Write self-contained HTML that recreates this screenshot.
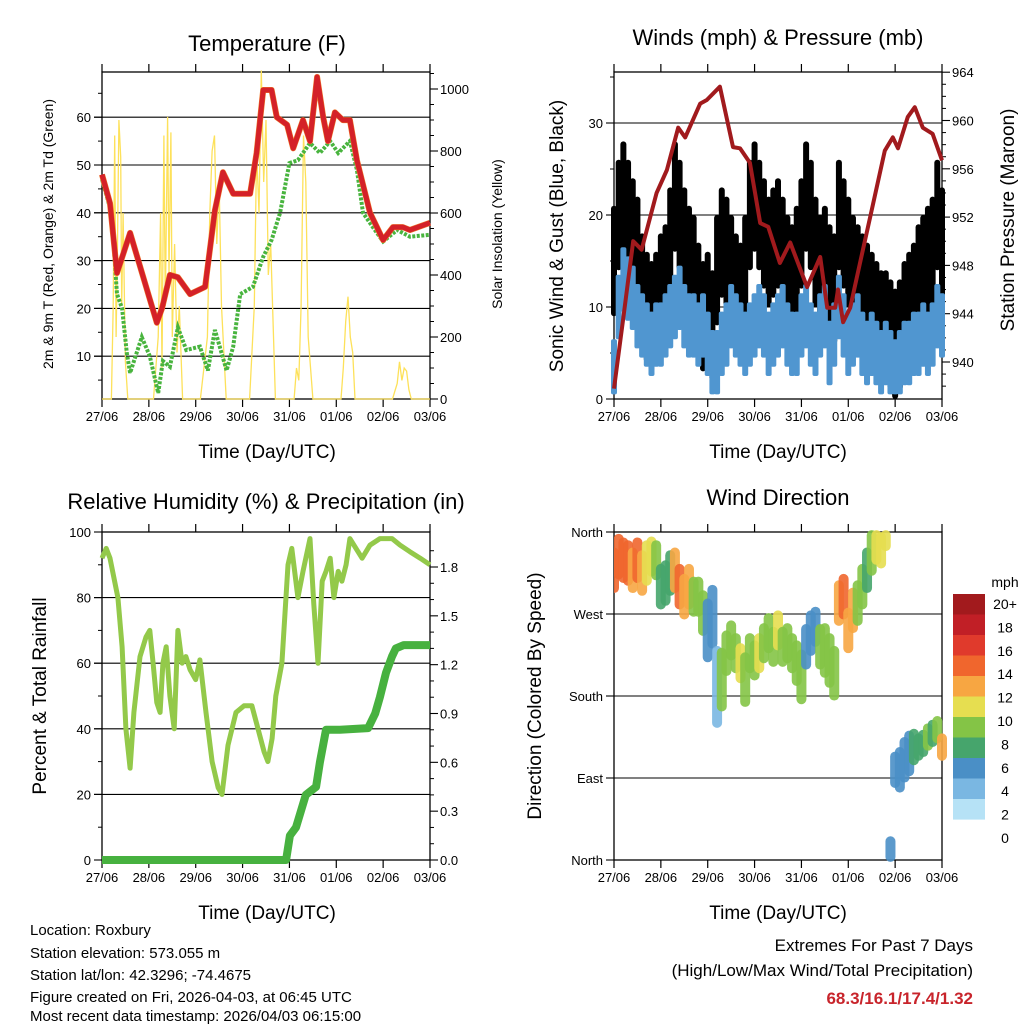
<!DOCTYPE html>
<html><head><meta charset="utf-8"><style>
html,body{margin:0;padding:0;background:#fff}
svg{display:block;font-family:"Liberation Sans",Arial,sans-serif}
</style></head><body>
<svg id="c" width="1024" height="1024" viewBox="0 0 1024 1024" xmlns="http://www.w3.org/2000/svg">
<g font-size="22" text-anchor="middle">
<text x="267" y="51">Temperature (F)</text>
<text x="778" y="45">Winds (mph) &amp; Pressure (mb)</text>
<text x="266" y="509">Relative Humidity (%) &amp; Precipitation (in)</text>
<text x="778" y="505">Wind Direction</text>
</g>
<g font-size="19" text-anchor="middle">
<text x="267" y="458">Time (Day/UTC)</text>
<text x="778" y="458">Time (Day/UTC)</text>
<text x="267" y="919">Time (Day/UTC)</text>
<text x="778" y="919">Time (Day/UTC)</text>
<text transform="translate(53,234) rotate(-90)" font-size="14">2m &amp; 9m T (Red, Orange) &amp; 2m Td (Green)</text>
<text transform="translate(502,234) rotate(-90)" font-size="14">Solar Insolation (Yellow)</text>
<text transform="translate(563,236) rotate(-90)">Sonic Wind &amp; Gust (Blue, Black)</text>
<text transform="translate(1014,220) rotate(-90)">Station Pressure (Maroon)</text>
<text transform="translate(46,696) rotate(-90)">Percent &amp; Total Rainfall</text>
<text transform="translate(541,696) rotate(-90)">Direction (Colored By Speed)</text>
</g>
<g font-size="15">
<text x="30" y="935">Location: Roxbury</text>
<text x="30" y="958">Station elevation: 573.055 m</text>
<text x="30" y="980">Station lat/lon: 42.3296; -74.4675</text>
<text x="30" y="1002">Figure created on Fri, 2026-04-03, at 06:45 UTC</text>
<text x="30" y="1024" dy="-3">Most recent data timestamp: 2026/04/03 06:15:00</text>
</g>
<g font-size="17" text-anchor="end">
<text x="973" y="951">Extremes For Past 7 Days</text>
<text x="973" y="976">(High/Low/Max Wind/Total Precipitation)</text>
<text x="973" y="1004" fill="#c8242b" font-weight="bold">68.3/16.1/17.4/1.32</text>
</g>
<g id="layer"></g>
</svg>
<script>
// ---------- DATA ----------
const dayLabels=["27/06","28/06","29/06","30/06","31/06","01/06","02/06","03/06"];
const tempTime=[0,0.17,0.32,0.6,1.17,1.28,1.45,1.62,1.88,2.2,2.41,2.58,2.8,3.16,3.3,3.44,3.62,3.73,3.95,4.08,4.29,4.44,4.59,4.72,4.82,4.97,5.14,5.29,5.44,5.72,6.0,6.21,6.42,6.57,7.0];
const tempVals=[48,42,27.4,35.8,17,20,27,26.5,23,24.5,40.5,48.5,44,44,52.5,65.7,65.7,60,58.4,53.5,59.4,55,68.4,60,55,61,59.4,59.4,51,40,34.3,37,37,36.4,37.9];
const dewTime=[0,0.2,0.32,0.43,0.53,0.6,0.85,1.02,1.2,1.3,1.45,1.62,1.8,2.09,2.26,2.41,2.66,2.8,2.95,3.22,3.44,3.62,3.8,4.0,4.18,4.44,4.65,4.87,5.04,5.29,5.44,5.57,5.78,6.0,6.3,6.57,7.0];
const dewVals=[47,40,23,20,10.7,6.5,14,10,2.3,9,7.8,16,11.3,12,7,15.5,7,12,23,24.5,30.8,34.3,40,50.4,51,54.6,52.5,55,52.5,55,49,40,37,34,36.4,35,35.4];
const solarTime=[0,0.2,0.24,0.27,0.3,0.33,0.36,0.4,0.42,0.45,0.5,0.55,1.1,1.2,1.25,1.28,1.32,1.35,1.4,1.43,1.47,1.5,1.55,1.6,1.65,1.72,2.1,2.25,2.3,2.35,2.4,2.45,2.5,2.55,2.65,3.15,3.25,3.3,3.35,3.4,3.45,3.5,3.55,3.6,3.7,4.1,4.15,4.2,4.25,4.3,4.35,4.4,4.5,5.1,5.15,5.2,5.25,5.3,5.35,5.4,6.2,6.3,6.35,6.4,6.45,6.5,6.55,6.6,7];
const solarVals=[0,0,300,850,200,500,900,780,300,600,120,0,0,200,600,100,850,300,910,400,860,200,500,150,300,0,0,200,600,800,850,500,700,300,0,0,300,800,600,1060,700,900,400,500,0,0,100,60,300,850,700,200,0,0,100,250,330,200,150,0,0,50,120,60,100,90,30,0,0];
const pressTime=[0,0.2,0.41,0.59,0.91,1.13,1.37,1.52,1.84,1.98,2.26,2.54,2.69,2.9,3.12,3.29,3.54,3.76,4.12,4.4,4.55,4.72,4.78,4.89,5.04,5.25,5.53,5.78,5.95,6.06,6.27,6.42,6.59,6.8,7.0];
const pressVals=[937.8,943.7,950,949.3,954,955.9,959.4,958.6,961.4,961.7,962.8,957.8,957.7,956.5,951.5,951.2,948.2,949.9,946.2,948.7,944.5,944.5,946,943.3,944.5,948.2,953.1,957.5,958.6,957.7,960.3,961.1,959.4,958.9,956.7];
// wind series sampled every 0.1 day
const windVals=[3,10,13,12,11,9,8,7,6,7,7,8,9,10,11,9,8,8,7,8,6,4,4,6,7,9,8,7,6,7,8,9,8,6,7,8,9,7,6,6,8,9,7,6,8,9,5,7,10,8,6,7,8,6,5,6,5,4,5,4,3,4,5,5,6,6,7,6,7,9,8];
const gustVals=[15,20,22,20,18,16,12,10,9,10,12,13,17,22,20,17,15,14,11,9,10,8,14,17,16,14,12,11,14,20,22,20,18,16,17,18,16,14,13,15,18,22,20,16,14,15,13,12,20,18,16,14,13,12,11,10,9,8,8,7,6,7,9,10,11,13,14,15,16,20,17];
const dirVals=[318,333,329,326,318,329,315,326,333,329,300,304,315,318,300,289,300,289,289,271,252,267,190,198,227,241,227,216,198,227,219,227,238,249,234,252,234,238,227,216,201,234,249,256,234,230,219,205,282,289,252,274,282,300,318,337,344,340,354,11,99,99,110,117,124,124,128,135,139,143,124];
const dirSpread=[25,25,25,25,25,25,25,25,22,22,25,25,25,25,25,25,25,22,22,25,35,35,45,35,25,22,22,22,30,22,22,22,22,22,22,22,22,22,22,25,30,25,25,22,25,30,30,30,25,25,25,25,25,25,25,25,20,20,15,15,20,25,25,25,20,15,15,15,15,15,15];
const dirSpeed=[14,14,15,14,13,14,12,10,10,9,7,7,7,13,14,13,12,8,8,8,4,4,3,8,9,9,8,10,9,8,9,10,9,8,9,10,8,9,9,8,9,4,4,5,8,8,9,8,13,14,12,13,8,8,7,8,11,11,10,4,4,4,5,4,7,7,7,8,7,8,12];
const rhTime=[0,0.09,0.17,0.34,0.43,0.51,0.6,0.68,0.81,0.94,1.02,1.09,1.17,1.24,1.3,1.37,1.45,1.54,1.62,1.71,1.79,1.88,2.0,2.09,2.22,2.35,2.48,2.56,2.69,2.86,3.03,3.2,3.33,3.46,3.54,3.63,3.71,3.84,3.97,4.05,4.18,4.29,4.44,4.52,4.61,4.7,4.78,4.87,4.95,5.04,5.12,5.21,5.29,5.42,5.55,5.72,5.93,6.19,6.36,6.57,6.79,7.0];
const rhVals=[92,95,92,80,65,40,28,45,62,68,70,60,48,45,60,65,50,40,70,60,62,58,55,61,45,30,22,20,35,45,47,47,40,33,30,37,50,60,90,95,80,88,98,78,60,85,88,92,80,88,85,90,98,95,92,96,98,98,96,94,92,90];
const precipTime=[0,3.93,4.01,4.14,4.35,4.57,4.65,4.78,5.08,5.68,5.83,5.93,6.06,6.19,6.27,6.44,7.0];
const precipVals=[0,0,0.15,0.2,0.4,0.45,0.6,0.8,0.8,0.81,0.9,1.0,1.15,1.25,1.3,1.32,1.32];
const cbColors=["#a21a1d","#c11f26","#e03a2c","#f0662d","#f7a642","#e6de50","#84c446","#46a56c","#4a8fc6","#7ab7e2","#b6e2f6"];
const cbLabels=["20+","18","16","14","12","10","8","6","4","2","0"];

// ---------- HELPERS ----------
const NS="http://www.w3.org/2000/svg";
const layer=document.getElementById('layer');
function mk(tag,attrs,parent){const e=document.createElementNS(NS,tag);for(const k in attrs)e.setAttribute(k,attrs[k]);(parent||layer).appendChild(e);return e;}
function lin(d0,d1,r0,r1){return v=>r0+(v-d0)*(r1-r0)/(d1-d0);}
function pathD(xs,ys,fx,fy){return xs.map((t,i)=>(i?'L':'M')+fx(t).toFixed(1)+' '+fy(ys[i]).toFixed(1)).join(' ');}
function frame(L,T,R,B,name){
  const g=mk('g',{});
  
  
  mk('rect',{x:L,y:T,width:R-L,height:B-T,fill:'none',stroke:'#000','stroke-width':1.3},g);
  const fx=lin(0,7,L,R);
  for(let i=0;i<=7;i++){const x=fx(i);
    mk('line',{x1:x,y1:B,x2:x,y2:B+8,stroke:'#000','stroke-width':1.2},g);
    mk('line',{x1:x,y1:T,x2:x,y2:T-8,stroke:'#000','stroke-width':1.2},g);
    const t=mk('text',{x:x,y:B+22,'font-size':13,'text-anchor':'middle'},g);t.textContent=dayLabels[i];
    
    
  }
  return g;
}
function yTicks(g,vals,labels,fy,L,R,side,grid,minor){
  vals.forEach((v,i)=>{const y=fy(v);
    if(grid) mk('line',{x1:L-8,y1:y,x2:R,y2:y,stroke:'#000','stroke-width':1.1},g);
    const x0=side==='l'?L:R, dx=side==='l'?-8:8;
    mk('line',{x1:x0,y1:y,x2:x0+dx,y2:y,stroke:'#000','stroke-width':1.1},g);
    const t=mk('text',{x:side==='l'?L-11:R+10,y:y+5,'font-size':13,'text-anchor':side==='l'?'end':'start'},g);t.textContent=labels[i];
    
    
  });
  (minor||[]).forEach(v=>{const y=fy(v);const x0=side==='l'?L:R;mk('line',{x1:x0,y1:y,x2:x0+(side==='l'?-4:4),y2:y,stroke:'#000','stroke-width':1},g);});
}

// ---------- PANEL 1: TEMPERATURE ----------
(function(){
  const L=102,R=430,T=72,B=399;
  const fx=lin(0,7,L,R), fy=lin(0,10,404,356.2), fs=lin(0,1000,399,89);
  const g=frame(L,T,R,B,'temperature');
  yTicks(g,[10,20,30,40,50,60],["10","20","30","40","50","60"],fy,L,R,'l',true,[5,15,25,35,45,55,65]);
  yTicks(g,[0,200,400,600,800,1000],["0","200","400","600","800","1000"],fs,L,R,'r',false,[50,100,150,250,300,350,450,500,550,650,700,750,850,900,950,1050]);
  let p=mk('path',{d:pathD(solarTime,solarVals,fx,fs),fill:'none',stroke:'#fde15a','stroke-width':1.3});
  
  
  p=mk('path',{d:pathD(dewTime,dewVals,fx,fy),fill:'none',stroke:'#48b43e','stroke-width':4,'stroke-dasharray':'3 1.5'});
  
  
  p=mk('path',{d:pathD(tempTime,tempVals,fx,fy),fill:'none',stroke:'#f07a2a','stroke-width':6,'stroke-linejoin':'round'});
  
  
  p=mk('path',{d:pathD(tempTime,tempVals,fx,fy),fill:'none',stroke:'#d42128','stroke-width':5,'stroke-linejoin':'round'});
  
  
})();

// ---------- PANEL 2: WINDS ----------
(function(){
  const L=614,R=942,T=72,B=399;
  const fx=lin(0,7,L,R), fy=lin(0,10,399,307), fp=lin(940,944,362,313.7);
  const g=frame(L,T,R,B,'winds');
  yTicks(g,[0,10,20,30],["0","10","20","30"],fy,L,R,'l',true,[5,15,25,35]);
  yTicks(g,[940,944,948,952,956,960,964],["940","944","948","952","956","960","964"],fp,L,R,'r',false,[938,939,941,942,943,945,946,947,949,950,951,953,954,955,957,958,959,961,962,963]);
  const wt=windVals.map((v,i)=>i*0.1);
  gustVals.forEach((v,i)=>{
    const r=mk('rect',{x:fx(wt[i])-3,y:fy(v+6),width:6,height:fy(v-6)-fy(v+6),fill:'#000',rx:3});
    
    
  });
  windVals.forEach((v,i)=>{
    const r=mk('rect',{x:fx(wt[i])-3,y:fy(v+3.5),width:6,height:fy(Math.max(v-3.5,0.5))-fy(v+3.5),fill:'#5096d0',rx:2});
    
    
  });
  const p=mk('path',{d:pathD(pressTime,pressVals,fx,fp),fill:'none',stroke:'#a11a1d','stroke-width':4,'stroke-linejoin':'round'});
  
  
})();

// ---------- PANEL 3: HUMIDITY ----------
(function(){
  const L=102,R=430,T=532,B=860;
  const fx=lin(0,7,L,R), fy=lin(0,100,860,532), fr=lin(0,1.8,860,567);
  const g=frame(L,T,R,B,'humidity');
  yTicks(g,[0,20,40,60,80,100],["0","20","40","60","80","100"],fy,L,R,'l',true,[10,30,50,70,90]);
  yTicks(g,[0,0.3,0.6,0.9,1.2,1.5,1.8],["0.0","0.3","0.6","0.9","1.2","1.5","1.8"],fr,L,R,'r',false,[0.1,0.2,0.4,0.5,0.7,0.8,1.0,1.1,1.3,1.4,1.6,1.7,1.9]);
  let p=mk('path',{d:pathD(rhTime,rhVals,fx,fy),fill:'none',stroke:'#93c94a','stroke-width':5,'stroke-linejoin':'round'});
  
  
  p=mk('path',{d:pathD(precipTime,precipVals,fx,fr),fill:'none',stroke:'#47b13f','stroke-width':8,'stroke-linejoin':'round'});
  
  
})();

// ---------- PANEL 4: WIND DIRECTION ----------
(function(){
  const L=614,R=942,T=532,B=860;
  const fx=lin(0,7,L,R), fd=lin(0,360,860,532);
  const g=frame(L,T,R,B,'direction');
  yTicks(g,[0,90,180,270,360],["North","East","South","West","North"],fd,L,R,'l',true,[]);
  const col=s=>cbColors[10-Math.max(0,Math.min(10,Math.floor(s/2)))];
  const clip=mk('clipPath',{id:'dirclip'});
  mk('rect',{x:L,y:T-5,width:R-L+5,height:B-T+10},clip);
  const dg=mk('g',{'clip-path':'url(#dirclip)'});
  
  
  dirVals.forEach((d,i)=>{
    const y1=fd(Math.min(d+dirSpread[i],362)), y2=fd(Math.max(d-dirSpread[i],-2));
    const r=mk('rect',{x:fx(i*0.1)-5,y:y1,width:10,height:y2-y1,rx:5,fill:col(dirSpeed[i]),'fill-opacity':0.9},dg);
    
    
  });
  // colorbar
  const cb=mk('g',{});
  
  
  cbColors.forEach((c,i)=>mk('rect',{x:953,y:594+i*20.5,width:32,height:20.6,fill:c},cb));
  cbLabels.forEach((l,i)=>{const t=mk('text',{x:1005,y:609+i*23.4,'font-size':14,'text-anchor':'middle'},cb);t.textContent=l;});
  const u=mk('text',{x:1005,y:587,'font-size':14,'text-anchor':'middle'},cb);u.textContent='mph';
})();
</script>
</body></html>
